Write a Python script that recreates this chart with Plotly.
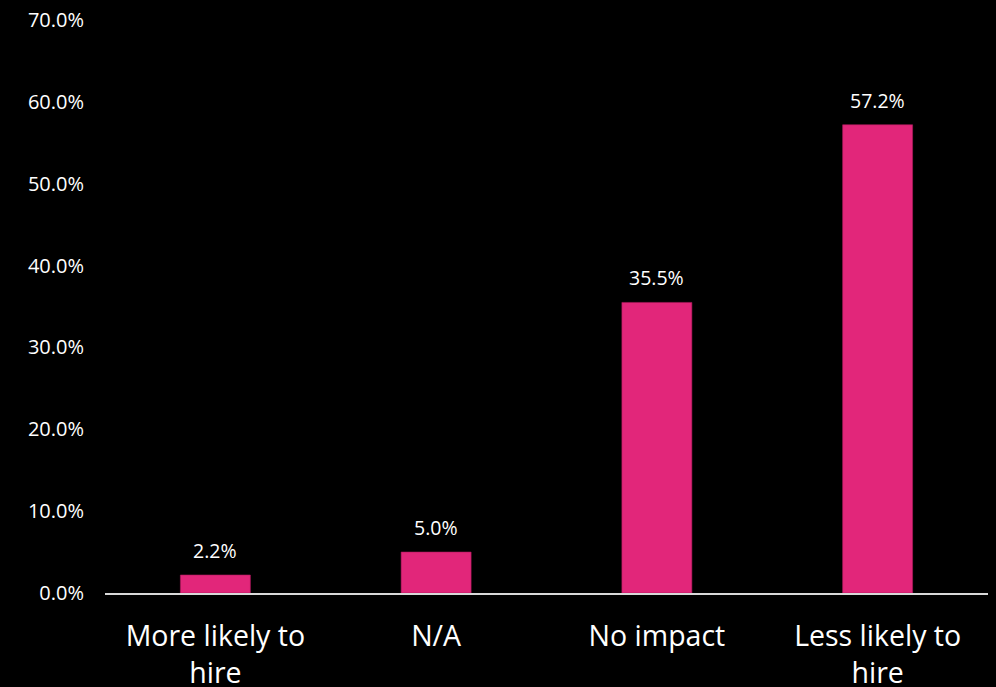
import plotly.graph_objects as go

# Survey responses: effect on hiring likelihood
categories = ["More likely to<br>hire", "N/A", "No impact", "Less likely to<br>hire"]
shares = [2.2, 5.0, 35.5, 57.2]
y_ticks = [0, 10, 20, 30, 40, 50, 60, 70]

BAR_COLOR = "#E2267A"
FONT = "Open Sans"

fig = go.Figure(
    go.Bar(
        x=categories,
        y=shares,
        width=0.317,
        marker=dict(color=BAR_COLOR, line=dict(color="#B01A5E", width=0.6)),
        hoverinfo="skip",
    )
)

# Value labels above each bar
for cat, val in zip(categories, shares):
    fig.add_annotation(
        x=cat, y=val, text=f"{val:.1f}%", showarrow=False,
        yanchor="bottom", yshift=9,
        font=dict(family=FONT, size=19.5, color="white"),
    )

fig.update_layout(
    width=996, height=687,
    paper_bgcolor="black", plot_bgcolor="black",
    margin=dict(l=105, r=8, t=20, b=94),
    showlegend=False,
    bargap=0.683,
)

fig.update_xaxes(
    automargin=False,
    showgrid=False, zeroline=False,
    showline=True, linecolor="#D9D9D9", linewidth=2,
    ticks="", ticklabelstandoff=17,
    tickfont=dict(family=FONT, size=28.5, color="white"),
)

fig.update_yaxes(
    automargin=False,
    range=[0, 70], tickvals=y_ticks,
    ticktext=[f"{v:.1f}%" for v in y_ticks],
    showgrid=False, zeroline=False, showline=False,
    ticks="", ticklabelstandoff=20,
    tickfont=dict(family=FONT, size=20, color="white"),
)

fig.write_html("out.html")
